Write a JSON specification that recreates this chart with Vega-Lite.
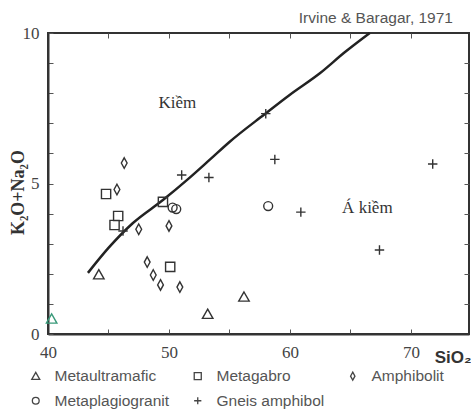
{
  "$schema": "https://vega.github.io/schema/vega-lite/v6.json",
  "autosize": {"type": "none"},
  "padding": {"left": 48, "top": 33, "right": 2, "bottom": 79},
  "width": 421,
  "height": 301,
  "background": "white",
  "config": {
    "view": {"stroke": "#333", "strokeWidth": 2},
    "axis": {"grid": false, "labelFlush": false}
  },
  "title": {
    "text": "Irvine & Baragar, 1971",
    "anchor": "end",
    "frame": "group",
    "font": "Liberation Sans",
    "fontSize": 15.5,
    "fontWeight": "normal",
    "color": "#555",
    "baseline": "alphabetic",
    "offset": 10,
    "dx": -16,
    "dy": 24
  },
  "datasets": {
    "curve": [
      {"SiO2": 43.3, "alk": 2.03},
      {"SiO2": 45.0, "alk": 2.86},
      {"SiO2": 47.0, "alk": 3.68},
      {"SiO2": 49.5, "alk": 4.45},
      {"SiO2": 51.5, "alk": 5.12},
      {"SiO2": 53.4, "alk": 5.8},
      {"SiO2": 55.0, "alk": 6.38},
      {"SiO2": 57.9, "alk": 7.3},
      {"SiO2": 60.0, "alk": 7.95},
      {"SiO2": 62.5, "alk": 8.67},
      {"SiO2": 64.5, "alk": 9.35},
      {"SiO2": 66.6, "alk": 10.0}
    ],
    "samples": [
      {"SiO2": 44.2, "alk": 1.97, "type": "Metaultramafic"},
      {"SiO2": 53.2, "alk": 0.66, "type": "Metaultramafic"},
      {"SiO2": 56.2, "alk": 1.23, "type": "Metaultramafic"},
      {"SiO2": 44.8, "alk": 4.65, "type": "Metagabro"},
      {"SiO2": 45.8, "alk": 3.92, "type": "Metagabro"},
      {"SiO2": 45.5, "alk": 3.62, "type": "Metagabro"},
      {"SiO2": 49.5, "alk": 4.39, "type": "Metagabro"},
      {"SiO2": 50.1, "alk": 2.23, "type": "Metagabro"},
      {"SiO2": 46.3, "alk": 5.68, "type": "Amphibolit"},
      {"SiO2": 45.7, "alk": 4.8, "type": "Amphibolit"},
      {"SiO2": 47.5, "alk": 3.48, "type": "Amphibolit"},
      {"SiO2": 50.0, "alk": 3.59, "type": "Amphibolit"},
      {"SiO2": 48.2, "alk": 2.39, "type": "Amphibolit"},
      {"SiO2": 48.7, "alk": 1.96, "type": "Amphibolit"},
      {"SiO2": 49.3, "alk": 1.63, "type": "Amphibolit"},
      {"SiO2": 50.9, "alk": 1.56, "type": "Amphibolit"},
      {"SiO2": 58.2, "alk": 4.25, "type": "Metaplagiogranit"},
      {"SiO2": 50.3, "alk": 4.2, "type": "Metaplagiogranit"},
      {"SiO2": 50.6, "alk": 4.15, "type": "Metaplagiogranit"},
      {"SiO2": 51.05, "alk": 5.28, "type": "Gneis amphibol"},
      {"SiO2": 53.3, "alk": 5.2, "type": "Gneis amphibol"},
      {"SiO2": 58.0, "alk": 7.32, "type": "Gneis amphibol"},
      {"SiO2": 58.75, "alk": 5.8, "type": "Gneis amphibol"},
      {"SiO2": 71.8, "alk": 5.65, "type": "Gneis amphibol"},
      {"SiO2": 60.9, "alk": 4.05, "type": "Gneis amphibol"},
      {"SiO2": 67.4, "alk": 2.79, "type": "Gneis amphibol"},
      {"SiO2": 46.2, "alk": 3.42, "type": "Gneis amphibol"}
    ],
    "extra": [
      {"SiO2": 40.3, "alk": 0.5}
    ],
    "labels": [
      {"SiO2": 50.7, "alk": 7.67, "text": "Kiềm"},
      {"SiO2": 66.4, "alk": 4.19, "text": "Á kiềm"}
    ]
  },
  "layer": [
    {
      "data": {"name": "curve"},
      "mark": {"type": "line", "color": "#222", "strokeWidth": 2.5, "interpolate": "monotone"},
      "encoding": {
        "x": {
          "field": "SiO2", "type": "quantitative",
          "scale": {"domain": [40, 74.8], "nice": false, "zero": false},
          "axis": {
            "orient": "bottom",
            "values": [40, 45, 50, 55, 60, 65, 70],
            "labelExpr": "datum.value % 10 == 0 ? datum.label : ''",
            "tickSize": -5,
            "tickColor": "#555",
            "labelPadding": 15,
            "labelFlush": false,
            "labelFont": "Liberation Serif",
            "labelFontSize": 17,
            "labelColor": "#444",
            "domainColor": "#333",
            "domainWidth": 2,
            "title": "SiO₂",
            "titleFont": "Liberation Sans",
            "titleFontSize": 17,
            "titleFontWeight": "bold",
            "titleColor": "#333",
            "titleAnchor": "end",
            "titleAlign": "right",
            "titleBaseline": "middle",
            "titleX": 423,
            "titleY": 23
          }
        },
        "y": {
          "field": "alk", "type": "quantitative",
          "scale": {"domain": [0, 10], "nice": false},
          "axis": {
            "orient": "left",
            "values": [0, 1, 2, 3, 4, 5, 6, 7, 8, 9, 10],
            "labelExpr": "datum.value % 5 == 0 ? datum.label : ''",
            "tickSize": -5,
            "tickColor": "#555",
            "labelPadding": 14,
            "labelFlush": false,
            "labelFont": "Liberation Serif",
            "labelFontSize": 17,
            "labelColor": "#444",
            "domainColor": "#333",
            "domainWidth": 2,
            "title": "K₂O+Na₂O",
            "titleFont": "Liberation Serif",
            "titleFontSize": 18,
            "titleFontWeight": "bold",
            "titleColor": "#333",
            "titleX": -30,
            "titleY": 159,
            "titleAngle": -90,
            "titleAlign": "center",
            "titleBaseline": "middle"
          }
        }
      }
    },
    {
      "data": {"name": "samples"},
      "mark": {"type": "point", "filled": false, "stroke": "#333", "strokeWidth": 1.4, "opacity": 1, "size": 110},
      "encoding": {
        "x": {
          "field": "SiO2", "type": "quantitative",
          "axis": {"orient": "top", "values": [45, 50, 55, 60, 65, 70], "labels": false, "tickSize": -5, "tickColor": "#555", "domain": false, "title": null}
        },
        "y": {
          "field": "alk", "type": "quantitative",
          "axis": {"orient": "right", "values": [1, 2, 3, 4, 5, 6, 7, 8, 9], "labels": false, "tickSize": -5, "tickColor": "#555", "domain": false, "title": null}
        },
        "shape": {
          "field": "type", "type": "nominal",
          "scale": {
            "domain": ["Metaultramafic", "Metagabro", "Amphibolit", "Metaplagiogranit", "Gneis amphibol"],
            "range": [
              "M0,-0.95L1,0.8L-1,0.8Z",
              "M-0.88,-0.88H0.88V0.88H-0.88Z",
              "M0,-1L0.55,0L0,1L-0.55,0Z",
              "M0.85,0A0.85,0.85 0 1,1 -0.85,0A0.85,0.85 0 1,1 0.85,0Z",
              "M-0.9,0H0.9M0,-0.9V0.9"
            ]
          },
          "legend": {
            "orient": "none",
            "legendX": -20,
            "legendY": 335,
            "direction": "horizontal",
            "columns": 3,
            "columnPadding": 20,
            "rowPadding": 8,
            "title": null,
            "labelFont": "Liberation Sans",
            "labelFontSize": 15.5,
            "labelColor": "#555",
            "symbolStrokeColor": "#444",
            "symbolFillColor": "transparent",
            "symbolStrokeWidth": 1.3,
            "symbolSize": 64,
            "labelOffset": 11
          }
        }
      }
    },
    {
      "data": {"name": "extra"},
      "mark": {"type": "point", "shape": "M0,-0.95L1,0.8L-1,0.8Z", "filled": false, "stroke": "#3a9a7a", "strokeWidth": 1.4, "size": 110, "opacity": 1},
      "encoding": {
        "x": {"field": "SiO2", "type": "quantitative", "axis": null},
        "y": {"field": "alk", "type": "quantitative", "axis": null}
      }
    },
    {
      "data": {"name": "labels"},
      "mark": {"type": "text", "font": "Liberation Serif", "fontSize": 17, "color": "#333", "align": "center", "baseline": "middle"},
      "encoding": {
        "x": {"field": "SiO2", "type": "quantitative", "axis": null},
        "y": {"field": "alk", "type": "quantitative", "axis": null},
        "text": {"field": "text", "type": "nominal"}
      }
    }
  ],
  "resolve": {"axis": {"x": "independent", "y": "independent"}}
}
